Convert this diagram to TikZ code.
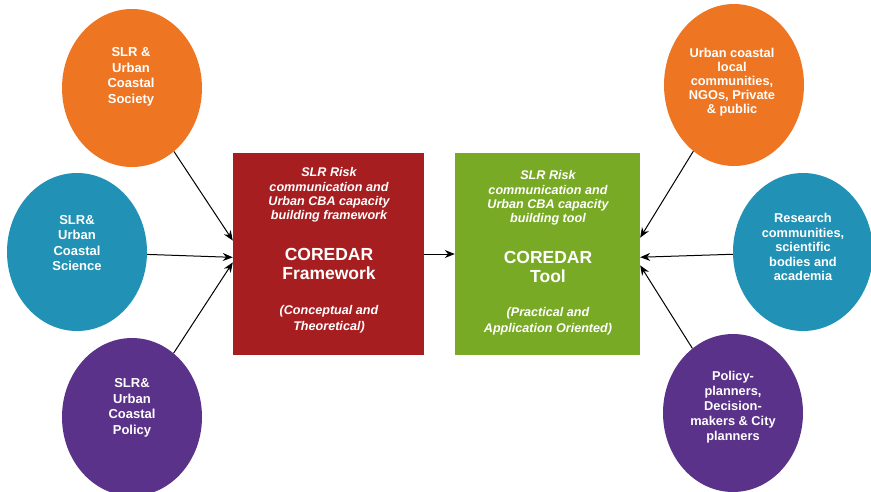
\documentclass[tikz,border=0pt]{standalone}
\usepackage{fontspec}
\setmainfont{Liberation Sans}
\usetikzlibrary{arrows.meta, positioning, shapes.geometric}
\definecolor{stakeorange}{RGB}{238,118,35}
\definecolor{stakeblue}{RGB}{33,146,181}
\definecolor{stakepurple}{RGB}{91,50,137}
\definecolor{framered}{RGB}{167,30,33}
\definecolor{toolgreen}{RGB}{121,170,38}

\begin{document}
\begin{tikzpicture}[x=1pt, y=-1pt,
  bubble/.style={ellipse, minimum width=140pt, minimum height=158pt, inner sep=0pt},
  bubbletext/.style={text=white, align=center, font=\fontsize{13}{15.5}\selectfont\bfseries},
  panel/.style={minimum width=191pt, minimum height=202pt, inner sep=0pt},
  smalltext/.style={text=white, align=center, font=\fontsize{12.6}{14.4}\selectfont\bfseries\itshape},
  bigtext/.style={text=white, align=center, font=\fontsize{17.5}{18.5}\selectfont\bfseries},
  link/.style={line width=1pt, -{Stealth[length=10pt,width=8pt]}}]
  \useasboundingbox (0,0) rectangle (871,491);

  % left stakeholders
  \node[bubble, fill=stakeorange] (soc) at (132,88) {};
  \node[bubbletext] (soctext) at (131,77) {SLR \&\\Urban\\Coastal\\Society};
  \node[bubble, fill=stakeblue] (sci) at (77,252) {};
  \node[bubbletext] (scitext) at (77,243) {SLR\&\\Urban\\Coastal\\Science};
  \node[bubble, fill=stakepurple] (pol) at (132,417) {};
  \node[bubbletext] (poltext) at (132,408) {SLR\&\\Urban\\Coastal\\Policy};

  % framework and tool
  \node[panel, fill=framered] (frame) at (328.5,254) {};
  \node[smalltext] (frametop) at (329,195)
    {SLR Risk\\communication and\\Urban CBA capacity\\building framework};
  \node[bigtext] (frametitle) at (329,264) {COREDAR\\Framework};
  \node[smalltext, font=\fontsize{12.6}{15.5}\selectfont\bfseries\itshape] (framesub) at (329,319)
    {(Conceptual and\\Theoretical)};

  \node[panel, fill=toolgreen, minimum width=185pt] (tool) at (547.5,254) {};
  \node[smalltext] (tooltop) at (548,198)
    {SLR Risk\\communication and\\Urban CBA capacity\\building tool};
  \node[bigtext] (tooltitle) at (548,267) {COREDAR\\Tool};
  \node[smalltext, font=\fontsize{12.6}{15.5}\selectfont\bfseries\itshape] (toolsub) at (548,321)
    {(Practical and\\Application Oriented)};

  % right stakeholders
  \node[bubble, fill=stakeorange, minimum height=162pt] (comm) at (734,85) {};
  \node[bubbletext, font=\fontsize{12.8}{14}\selectfont\bfseries] (commtext) at (732,82)
    {Urban coastal\\local\\communities,\\NGOs, Private\\\& public};
  \node[bubble, fill=stakeblue] (res) at (803,252) {};
  \node[bubbletext, font=\fontsize{12.8}{14.5}\selectfont\bfseries] (restext) at (803,247)
    {Research\\communities,\\scientific\\bodies and\\academia};
  \node[bubble, fill=stakepurple] (plan) at (733,413) {};
  \node[bubbletext, font=\fontsize{12.8}{15}\selectfont\bfseries] (plantext) at (733,407)
    {Policy-\\planners,\\Decision-\\makers \& City\\planners};

  \draw[link] (soc) -- (frame.172);
  \draw[link] (sci) -- (frame.182);
  \draw[link] (pol) -- (frame.185);
  \draw[link] (frame.east) -- (tool.west);
  \draw[link] (comm) -- (tool.10);
  \draw[link] (res) -- (tool.358);
  \draw[link] (plan) -- (tool.353);
\end{tikzpicture}
\end{document}
